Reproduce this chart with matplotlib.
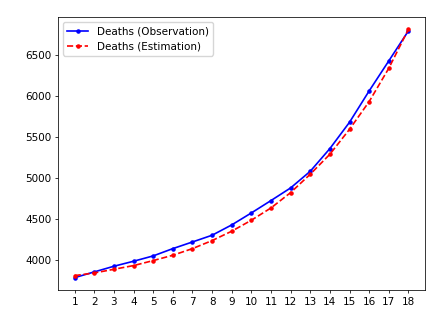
import matplotlib
matplotlib.use("Agg")
import matplotlib.pyplot as plt

days = list(range(1, 19))
observation = [3780, 3850, 3919, 3980, 4045, 4134, 4215, 4297, 4423, 4569,
               4720, 4874, 5077, 5354, 5675, 6057, 6423, 6789]
estimation = [3805, 3837, 3882, 3927, 3988, 4053, 4134, 4232, 4346, 4480,
              4630, 4817, 5041, 5285, 5589, 5927, 6333, 6809]

s = 0.69
plt.rcParams.update({
    'font.size': 7.5,
    'lines.linewidth': 1.2,
    'lines.markersize': 4.5,
    'axes.linewidth': 0.8 * s,
    'xtick.major.size': 3.5 * s,
    'ytick.major.size': 3.5 * s,
    'xtick.major.width': 0.8 * s,
    'ytick.major.width': 0.8 * s,
    'xtick.major.pad': 3.5 * s,
    'ytick.major.pad': 3.5 * s,
})

fig = plt.figure(figsize=(4.41, 3.23), dpi=100)
ax = fig.add_axes([0.1315, 0.102, 0.8325, 0.846])
ax.plot(days, observation, 'b.-', label='Deaths (Observation)')
ax.plot(days, estimation, 'r.--', label='Deaths (Estimation)')
ax.set_xticks(days)
ax.legend(loc='upper left')
fig.savefig('out.png', dpi=100)
